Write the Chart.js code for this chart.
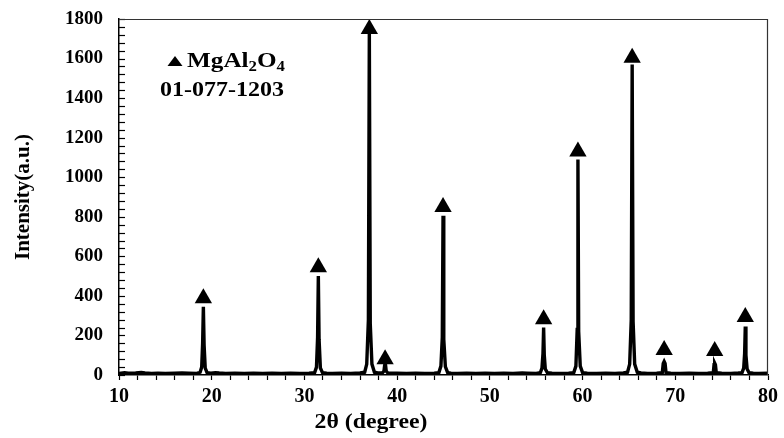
<!DOCTYPE html>
<html>
<head>
<meta charset="utf-8">
<script src="https://cdn.jsdelivr.net/npm/chart.js@4.4.1/dist/chart.umd.min.js"></script>
<style>
  html, body { margin: 0; padding: 0; background: #ffffff; }
  #wrap { width: 784px; height: 438px; overflow: hidden; }
</style>
</head>
<body>
<div id="wrap"><canvas id="c" width="784" height="438"></canvas></div>
<script>
// ---- XRD pattern (2θ in degrees, intensity in a.u.) ----
const twoTheta = [
  10.0, 10.6, 11.0, 11.8, 12.4, 12.8, 13.5, 14.2, 15.0, 16.0, 16.8, 17.5, 18.4,
  18.75, 18.92, 19.02, 19.1, 19.18, 19.3, 19.5, 19.9, 20.4, 20.8, 21.5, 22.5, 23.5,
  24.5, 25.5, 26.5, 27.5, 28.5, 29.5, 30.5,
  31.1, 31.3, 31.42, 31.5, 31.58, 31.72, 31.95, 32.4, 33.0, 34.0, 35.0, 36.0,
  36.5, 36.72, 36.9, 37.0, 37.1, 37.28, 37.55, 37.9,
  38.4, 38.58, 38.65, 38.75, 38.82, 39.0, 40.0, 41.0, 42.0, 43.0, 44.0,
  44.5, 44.72, 44.87, 44.95, 45.03, 45.2, 45.45, 45.8,
  46.5, 47.5, 48.5, 49.5, 50.5, 51.5, 52.5, 53.5, 54.0, 55.0,
  55.45, 55.62, 55.73, 55.8, 55.87, 55.98, 56.2, 56.7, 57.5, 58.5,
  59.05, 59.28, 59.42, 59.5, 59.58, 59.75, 60.0, 60.5, 61.5, 62.5, 63.5, 64.4,
  64.85, 65.08, 65.25, 65.35, 65.45, 65.62, 65.9, 66.3, 67.0, 68.0,
  68.6, 68.7, 68.8, 68.9, 69.0, 69.5, 70.5, 71.5, 72.5, 73.5,
  74.1, 74.18, 74.25, 74.33, 74.42, 75.0, 76.0, 76.8,
  77.2, 77.38, 77.48, 77.55, 77.62, 77.75, 77.95, 78.4, 79.0, 80.0
];
const intensity = [
  8, 12, 9, 10, 13, 10, 8, 9, 8, 9, 10, 9, 8,
  14, 40, 160, 345, 150, 35, 12, 9, 12, 10, 8, 9, 8,
  9, 8, 9, 8, 9, 8, 9,
  12, 40, 190, 500, 180, 35, 12, 9, 8, 9, 8, 10,
  14, 55, 280, 1730, 260, 55, 14, 10,
  10, 20, 48, 50, 20, 10, 9, 8, 9, 8, 9,
  12, 45, 190, 805, 180, 42, 12, 9,
  8, 9, 8, 9, 8, 9, 8, 10, 9, 8,
  12, 35, 110, 240, 100, 30, 12, 9, 8, 9,
  12, 45, 230, 1090, 220, 45, 12, 9, 8, 9, 8, 10,
  14, 55, 280, 1570, 270, 55, 14, 10, 8, 9,
  12, 58, 68, 58, 12, 9, 8, 9, 8, 9,
  12, 52, 60, 52, 12, 9, 8, 10,
  12, 35, 110, 245, 100, 30, 12, 9, 8, 9
];

// ---- MgAl2O4 (01-077-1203) reflection markers ----
const markerPos = [19.1, 31.5, 37.0, 38.7, 44.95, 55.8, 59.5, 65.35, 68.8, 74.25, 77.55];
const markerY   = [388, 545, 1750, 80, 850, 282, 1130, 1604, 126, 121, 293];

// ---- axis settings ----
const xMin = 10, xMax = 80, xStep = 2, xLabelEvery = 10;
const yMin = 0, yMax = 1800, yStep = 40, yLabelEvery = 200;

const xTitle = '2θ (degree)';
const yTitle = 'Intensity(a.u.)';
const legendCard = '01-077-1203';

const serif = "'Liberation Serif', 'Times New Roman', serif";

const patternData = twoTheta.map((x, i) => ({ x: x, y: intensity[i] }));
const markerData = markerPos.map((x, i) => ({ x: x, y: markerY[i] }));

function drawScaled(ctx, txt, x, y, size, sx) {
  ctx.save();
  ctx.font = 'bold ' + size + 'px ' + serif;
  ctx.translate(x, y);
  ctx.scale(sx, 1);
  ctx.fillText(txt, 0, 0);
  const w = ctx.measureText(txt).width * sx;
  ctx.restore();
  return w;
}

const framePlugin = {
  id: 'frame',
  afterDraw(chart) {
    const ctx = chart.ctx;
    const a = chart.chartArea;
    const ys = chart.scales.y;
    ctx.save();
    // inward ticks on the y axis
    ctx.strokeStyle = '#000';
    ctx.lineWidth = 1.2;
    ys.ticks.forEach(t => {
      const py = Math.round(ys.getPixelForValue(t.value)) + 0.5;
      ctx.beginPath();
      ctx.moveTo(a.left, py);
      ctx.lineTo(a.left + 6, py);
      ctx.stroke();
    });
    // top and right frame lines
    ctx.strokeStyle = '#333';
    ctx.lineWidth = 1.2;
    ctx.beginPath();
    ctx.moveTo(a.left, a.top + 0.5);
    ctx.lineTo(a.right - 0.5, a.top + 0.5);
    ctx.lineTo(a.right - 0.5, a.bottom);
    ctx.stroke();

    // legend
    const lx = a.left + 56, ly = a.top + 47;
    ctx.fillStyle = '#000';
    ctx.beginPath();
    ctx.moveTo(lx, ly - 10);
    ctx.lineTo(lx + 7.5, ly);
    ctx.lineTo(lx - 7.5, ly);
    ctx.closePath();
    ctx.fill();

    ctx.textBaseline = 'alphabetic';
    ctx.textAlign = 'left';
    let x = lx + 12;
    const base = ly + 1;
    x += drawScaled(ctx, 'MgAl', x, base, 21, 1.2);
    x += drawScaled(ctx, '2', x, base + 4, 14, 1.2);
    x += drawScaled(ctx, 'O', x, base, 21, 1.2);
    drawScaled(ctx, '4', x, base + 4, 14, 1.2);
    drawScaled(ctx, legendCard, a.left + 41, a.top + 77, 20, 1.2);

    // x axis title (sits left of centre in the original)
    ctx.font = 'bold 22px ' + serif;
    const tw = ctx.measureText(xTitle).width * 1.08;
    drawScaled(ctx, xTitle, a.left + 252 - tw / 2, a.bottom + 53, 22, 1.08);
    ctx.restore();
  }
};

new Chart(document.getElementById('c'), {
  type: 'scatter',
  data: {
    datasets: [
      {
        label: 'XRD',
        data: patternData,
        showLine: true,
        borderColor: '#000',
        borderWidth: 3.4,
        pointRadius: 0,
        tension: 0,
        order: 2
      },
      {
        label: 'MgAl2O4',
        data: markerData,
        pointStyle: 'triangle',
        pointRadius: 10,
        pointBackgroundColor: '#000',
        pointBorderWidth: 0,
        clip: false,
        order: 1
      }
    ]
  },
  options: {
    responsive: false,
    animation: false,
    devicePixelRatio: 1,
    layout: { padding: { left: 0, top: 19, right: 16, bottom: 0 } },
    plugins: { legend: { display: false }, tooltip: { enabled: false } },
    scales: {
      x: {
        type: 'linear',
        min: xMin, max: xMax,
        afterFit(s) { s.height = 63; s.paddingLeft = 0; s.paddingRight = 0; },
        border: { display: true, color: '#000', width: 1.5 },
        grid: { display: true, drawOnChartArea: false, drawTicks: true, tickLength: 5, color: '#000', tickWidth: 1.2 },
        ticks: {
          stepSize: xStep,
          autoSkip: false,
          maxRotation: 0,
          padding: 5,
          color: '#000',
          font: { family: serif, size: 20, weight: 'bold' },
          callback: v => (v % xLabelEvery === 0 ? String(v) : '')
        },
        title: { display: false, text: xTitle }
      },
      y: {
        type: 'linear',
        min: yMin, max: yMax,
        afterFit(s) { s.width = 119; s.paddingTop = 0; s.paddingBottom = 0; },
        border: { display: true, color: '#000', width: 1.5 },
        grid: { display: true, drawOnChartArea: false, drawTicks: false, color: 'rgba(0,0,0,0)' },
        ticks: {
          stepSize: yStep,
          autoSkip: false,
          padding: 16,
          color: '#000',
          font: { family: serif, size: 19, weight: 'bold' },
          callback: v => (v % yLabelEvery === 0 ? String(v) : '')
        },
        title: {
          display: true,
          text: yTitle,
          color: '#000',
          font: { family: serif, size: 21, weight: 'bold', lineHeight: 1.2 },
          padding: { top: 11, bottom: 0 }
        }
      }
    }
  },
  plugins: [framePlugin]
});
</script>
</body>
</html>
